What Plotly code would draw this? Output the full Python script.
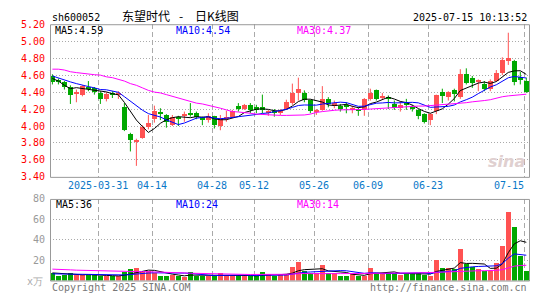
import plotly.graph_objects as go

# ---------------- data ----------------
opens = [4.59,4.54,4.52,4.46,4.37,4.36,4.45,4.44,4.39,4.32,
         4.39,4.37,4.22,3.90,3.81,3.86,3.98,4.08,4.15,4.13,
         4.01,4.10,4.12,4.14,4.15,4.10,4.07,4.11,4.00,4.09,
         4.10,4.23,4.20,4.25,4.22,4.22,4.16,4.17,4.15,4.20,
         4.27,4.39,4.39,4.30,4.17,4.19,4.31,4.23,4.23,4.24,
         4.19,4.20,4.20,4.31,4.42,4.33,4.33,4.26,4.21,4.26,
         4.22,4.19,4.14,4.07,4.17,4.40,4.34,4.42,4.34,4.61,
         4.56,4.52,4.49,4.43,4.53,4.62,4.76,4.76,4.57,4.53]
highs = [4.61,4.56,4.53,4.48,4.43,4.48,4.53,4.46,4.41,4.40,
         4.41,4.41,4.27,3.92,3.85,4.01,4.13,4.24,4.21,4.14,
         4.13,4.12,4.17,4.27,4.17,4.11,4.15,4.12,4.13,4.18,
         4.19,4.27,4.26,4.27,4.25,4.37,4.19,4.20,4.20,4.31,
         4.50,4.57,4.42,4.31,4.20,4.47,4.34,4.30,4.26,4.28,
         4.24,4.22,4.33,4.44,4.43,4.39,4.36,4.30,4.29,4.32,
         4.25,4.20,4.15,4.15,4.37,4.44,4.41,4.44,4.67,4.68,
         4.59,4.55,4.53,4.55,4.66,4.81,5.10,4.78,4.64,4.57]
lows = [4.49,4.49,4.43,4.26,4.28,4.35,4.41,4.37,4.26,4.29,
        4.33,4.32,3.94,3.70,3.53,3.85,3.96,4.04,4.07,3.98,
        4.00,4.00,4.05,4.11,4.08,4.01,4.04,3.97,3.95,4.05,
        4.09,4.17,4.19,4.15,4.15,4.15,4.12,4.11,4.13,4.19,
        4.25,4.30,4.28,4.15,4.13,4.18,4.22,4.21,4.17,4.15,
        4.15,4.12,4.12,4.30,4.30,4.31,4.20,4.19,4.17,4.19,
        4.17,4.08,4.03,4.01,4.14,4.27,4.30,4.29,4.32,4.49,
        4.45,4.41,4.41,4.41,4.52,4.60,4.72,4.48,4.49,4.39]
closes = [4.52,4.52,4.46,4.36,4.40,4.47,4.44,4.40,4.32,4.38,
          4.36,4.38,3.95,3.83,3.83,3.98,4.03,4.18,4.14,4.04,
          4.10,4.09,4.13,4.13,4.10,4.07,4.11,4.01,4.08,4.10,
          4.17,4.20,4.24,4.19,4.19,4.19,4.17,4.16,4.18,4.28,
          4.39,4.43,4.30,4.18,4.18,4.32,4.26,4.27,4.20,4.23,
          4.20,4.18,4.32,4.39,4.32,4.35,4.32,4.21,4.25,4.25,
          4.20,4.12,4.04,4.14,4.36,4.35,4.40,4.37,4.61,4.51,
          4.50,4.54,4.43,4.53,4.62,4.78,4.80,4.52,4.54,4.40]
volumes = [7.4,4.2,5.8,7.4,5.4,5.4,5.4,5.4,4.8,4.2,
           4.2,4.2,8.6,11.2,12.8,9.6,9.0,7.4,4.8,4.8,
           5.4,4.8,3.2,8.6,4.8,4.8,4.2,4.2,7.4,5.4,
           5.4,5.4,4.2,4.2,4.2,8.6,6.4,4.2,5.4,6.4,
           13.8,18.2,9.6,7.4,7.4,15.4,7.4,7.4,4.8,4.8,
           6.4,4.8,4.8,12.8,7.4,7.4,7.4,7.4,5.8,7.4,
           7.4,7.4,5.4,4.2,20.2,12.8,12.8,11.2,31.0,16.0,
           13.4,11.2,9.6,9.6,17.0,33.6,67.0,52.8,24.6,9.6]
# price MA30
ma30_price = [4.67,4.67,4.66,4.64,4.63,4.62,4.61,4.605,4.60,4.58,
              4.57,4.55,4.53,4.50,4.48,4.45,4.42,4.40,4.39,4.37,
              4.35,4.33,4.31,4.29,4.27,4.26,4.245,4.23,4.21,4.19,
              4.17,4.165,4.16,4.15,4.14,4.135,4.13,4.125,4.125,4.125,
              4.125,4.125,4.13,4.14,4.16,4.17,4.18,4.185,4.19,4.19,
              4.19,4.19,4.195,4.20,4.205,4.21,4.215,4.22,4.225,4.23,
              4.235,4.235,4.235,4.24,4.245,4.25,4.255,4.26,4.265,4.275,
              4.285,4.29,4.30,4.31,4.33,4.345,4.355,4.36,4.37,4.375]
# leading moving-average values (window reaches before the first bar)
ma5_price_head = [4.56,4.53,4.48,4.44]
ma10_price_head = [4.59,4.565,4.545,4.52,4.50,4.48,4.465,4.45,4.43]
ma5_vol_head = [7.5,7.0,6.5,6.2]
ma10_vol_head = [6.6,6.5,6.4,6.3,6.2,6.1,6.0,5.8,5.7]
ma30_vol_head = [11.2,11.2,11.0,10.5,10.2,10.0,9.8,9.5,9.3,9.2,
                 9.0,9.0,8.9,8.8,8.8,8.8,8.7,8.5,8.3,8.2,
                 8.0,7.8,7.5,7.2,7.0,6.8,6.6,6.5,6.4]

date_ticks = [8, 17, 27, 34, 44, 53, 63, 79]
date_labels = ["2025-03-31", "04-14", "04-28", "05-12", "05-26", "06-09", "06-23", "07-15"]
price_ticks = [3.40,3.60,3.80,4.00,4.20,4.40,4.60,4.80,5.00,5.20]
vol_ticks = [20, 40, 60, 80]

code = "sh600052"
title_parts = ["东望时代", "-", "日K线图"]
stamp = "2025-07-15 10:13:52"
price_legend = ["MA5:4.59", "MA10:4.54", "MA30:4.37"]
vol_legend = ["MA5:36", "MA10:24", "MA30:14"]

# ---------------- helpers ----------------
def moving(vals, n, head):
    out = list(head)
    for i in range(len(head), len(vals)):
        out.append(sum(vals[i - n + 1:i + 1]) / n)
    return out

N = len(closes)
idx = list(range(N))
ma5_p = moving(closes, 5, ma5_price_head)
ma10_p = moving(closes, 10, ma10_price_head)
ma5_v = moving(volumes, 5, ma5_vol_head)
ma10_v = moving(volumes, 10, ma10_vol_head)
ma30_v = moving(volumes, 30, ma30_vol_head)

RED = "#ff5252"
GREEN = "#00a800"
MONO = "DejaVu Sans Mono"
CJK = "Noto Sans CJK SC"

W, H = 545, 300
L, R = 50, 529
PT, PB = 19, 178
VT, VB = 201, 286
def px(x): return x / W
def py(y): return 1 - y / H

up = [c >= o for o, c in zip(opens, closes)]

fig = go.Figure()

# wicks
for flag, col in ((True, RED), (False, GREEN)):
    wx, wy = [], []
    for i in idx:
        if up[i] == flag:
            wx += [i, i, None]
            wy += [lows[i], highs[i], None]
    fig.add_trace(go.Scatter(x=wx, y=wy, mode="lines", line=dict(color=col, width=1),
                             hoverinfo="skip", xaxis="x", yaxis="y"))

# bodies
for flag, col in ((True, RED), (False, GREEN)):
    bx = [i for i in idx if up[i] == flag]
    base = [min(opens[i], closes[i]) for i in bx]
    hgt = [max(abs(closes[i] - opens[i]), 0.011) for i in bx]
    fig.add_trace(go.Bar(x=bx, y=hgt, base=base, width=0.78, marker=dict(color=col, line=dict(width=0)),
                         xaxis="x", yaxis="y"))

# price MAs
for vals, col in ((ma5_p, "#000000"), (ma10_p, "#0000ff"), (ma30_price, "#ff00ff")):
    fig.add_trace(go.Scatter(x=idx, y=vals, mode="lines", line=dict(color=col, width=1),
                             xaxis="x", yaxis="y"))

# volume bars
fig.add_trace(go.Bar(x=idx, y=volumes, width=0.75,
                     marker=dict(color=[RED if u else GREEN for u in up], line=dict(width=0)),
                     xaxis="x2", yaxis="y2"))
for vals, col in ((ma5_v, "#000000"), (ma10_v, "#0000ff"), (ma30_v, "#ff00ff")):
    fig.add_trace(go.Scatter(x=idx, y=vals, mode="lines", line=dict(color=col, width=1),
                             xaxis="x2", yaxis="y2"))

grid_x = [t - 0.38 for t in date_ticks]
xr = [-0.4, 79.45]
common_x = dict(domain=[px(L), px(R)], range=xr, tickvals=grid_x, showticklabels=False,
                showgrid=True, gridcolor="#aaaaaa", griddash="5px,3px", gridwidth=1,
                zeroline=False, showline=False, ticks="")
fig.update_layout(
    width=W, height=H, margin=dict(l=0, r=0, t=0, b=0),
    paper_bgcolor="white", plot_bgcolor="white", showlegend=False, barmode="overlay",
    bargap=0,
    xaxis=dict(anchor="y", **common_x),
    xaxis2=dict(anchor="y2", matches="x", **common_x),
    yaxis=dict(domain=[py(PB), py(PT)], range=[3.40, 5.20], tickvals=price_ticks,
               ticktext=["%.2f" % v for v in price_ticks],
               tickfont=dict(family=MONO, size=10, color="#ff0000"),
               showgrid=True, gridcolor="#aaaaaa", griddash="1px,2px", zeroline=False,
               ticks="", ticklabelstandoff=4),
    yaxis2=dict(domain=[py(VB), py(VT)], range=[0, 80], tickvals=vol_ticks,
                ticktext=[str(v) for v in vol_ticks],
                tickfont=dict(family=MONO, size=10, color="#999999"),
                showgrid=True, gridcolor="#aaaaaa", griddash="1px,2px", zeroline=False,
                ticks="", ticklabelstandoff=4),
)

# frames
for y0, y1 in ((PT, PB), (VT, VB)):
    fig.add_shape(type="rect", xref="paper", yref="paper", x0=px(L + 0.5), x1=px(R + 0.5),
                  y0=py(y0 + 0.5), y1=py(y1 + 0.5), line=dict(color="#999999", width=1))

ann = []
def text(x, y, s, color="#000", size=10, anchor="left", family=MONO, xref="paper", yref="paper", **kw):
    ann.append(dict(x=x, y=y, xref=xref, yref=yref, text=s, showarrow=False, xanchor=anchor,
                    yanchor="middle", font=dict(family=family, size=size, color=color), **kw))

# date labels
for t, lab in zip(date_ticks, date_labels):
    if t == date_ticks[-1]:
        text(t, py(187), lab, color="#0a78c8", anchor="right", xref="x")
    else:
        text(t - 0.38, py(187), lab, color="#0a78c8", anchor="center", xref="x")

text(px(50), py(11.5), code, color="#000")
text(px(120), py(10), title_parts[0], color="#000", size=12, family=CJK)
text(px(180.5), py(10), title_parts[1], color="#000", size=12, anchor="center", family=CJK)
text(px(193), py(10), title_parts[2], color="#000", size=12, family=CJK)
text(px(529), py(11.5), stamp, color="#000", anchor="right")

for s, x, c in zip(price_legend, (53, 174, 295), ("#000000", "#0000ff", "#ff00ff")):
    text(px(x), py(25), s, color=c)
for s, x, c in zip(vol_legend, (54, 174, 295), ("#000000", "#0000ff", "#ff00ff")):
    text(px(x), py(207), s, color=c)

text(px(45), py(286.5), "x万", color="#aaaaaa", anchor="right")
text(px(50), py(293), "Copyright 2025 SINA.COM", color="#777777")
text(px(529), py(293), "http://finance.sina.com.cn", color="#777777", anchor="right")
text(px(527), py(162), "<b><i>sina</i></b>", color="#e0d0d0", size=16, anchor="right", family="DejaVu Sans")

fig.update_layout(annotations=ann)
fig.write_html("out.html")
